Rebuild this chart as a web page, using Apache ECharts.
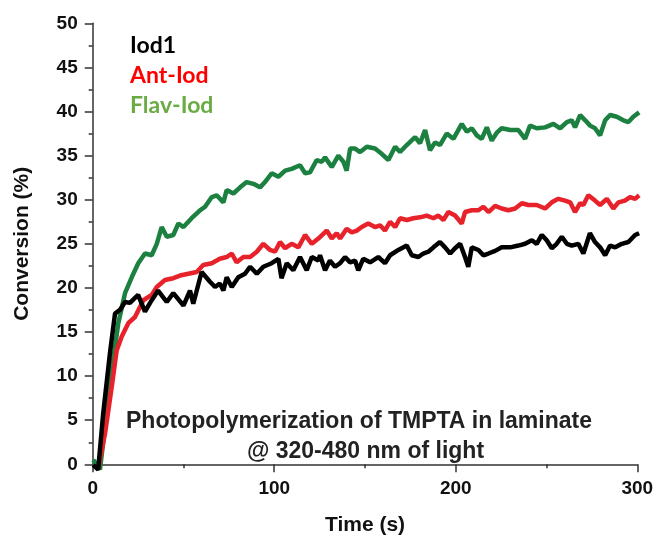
<!DOCTYPE html>
<html>
<head>
<meta charset="utf-8">
<script src="https://cdn.jsdelivr.net/npm/echarts@6/dist/echarts.min.js"></script>
<style>html,body{margin:0;padding:0;background:#fff}#c{width:655px;height:536px}</style>
</head>
<body>
<div id="c"></div>
<script>
// ---- data (time in s, conversion in %) ----
const seriesNames = ['Iod1', 'Ant-Iod', 'Flav-Iod'];
const xTicks = [0, 100, 200, 300];
const yTicks = [0, 5, 10, 15, 20, 25, 30, 35, 40, 45, 50];

const iodT = [0.3,3,5.8,9.5,12.3,15,17.8,20.5,25,28.8,31.6,36,40.8,44.4,50,53.6,55.4,60,64.6,67.4,70,72,73.8,76.6,80.2,83.9,86.7,90.4,94,98.6,102.3,104,106.9,110.5,114.2,117.9,120.7,124.3,125.2,128,130.7,133.5,136.3,139,141.8,144.5,146.3,149,152.8,157.3,161,163.8,168.4,173,175.8,179.4,182.1,184.9,187.7,191.3,194.1,196.9,199.6,202.4,205.1,206.9,208.8,212.5,215.2,218,221.7,225.3,230,234.5,238.2,241.9,244.6,247.4,250.1,252.9,255.6,258.4,261.2,263.9,267.5,270.3,273.9,276.7,279.5,282.3,285,287.8,291.5,295.1,298.8,301];
const iodV = [-0.1,-0.6,5.8,12.6,17.1,17.5,18.4,18.3,19.2,17.3,18.3,19.7,18.4,19.4,18,19.7,18.2,21.8,20.7,20.1,20.5,19.7,21.2,20.1,21.2,21.6,22.4,21.6,22.4,22.8,23.3,21.1,22.8,22,23.5,22,23.5,23.1,23.7,22,23.1,22.4,22.8,23.5,22.9,23.1,22,23.3,22.9,23.5,22.8,23.7,24.3,24.8,23.7,23.5,23.9,24.1,24.6,25.2,24.6,23.9,24.5,25,23.5,22.4,24.6,24.3,23.7,23.9,24.2,24.6,24.6,24.8,25,25.4,25,26,25.4,24.5,25,25.8,25,24.8,25,23.9,26.2,25.2,24.6,23.7,24.8,24.6,25,25.2,26,26.2];

const antT = [3,6.8,10.5,13.2,16,19.6,23.3,27.9,32.5,35.3,39.8,44.4,48.1,52.7,57.3,60.9,65.6,70,73.8,76.6,79.3,83,86.7,90.4,94,97.7,100.4,103.2,106,109.6,113.3,117,120.7,124.3,128.9,131.7,134.4,136.3,139.9,142.7,145.5,148.2,151.8,155.5,158.3,161,163.8,166.6,169.3,173,176.6,180.3,184,187.7,190.4,193.2,195.9,199.6,203.3,205.1,208.8,212.5,215.2,218,221.7,225.3,229,232.7,236.4,240,244.6,249.2,252.9,256.5,260.2,263,265.7,268.5,270.3,273,276.7,279.5,283.2,286.8,289.6,293.2,296,298.8,301];
const antV = [-0.5,3.5,8.8,12.9,14.5,16,16.7,18.6,19.2,20.1,20.9,21.1,21.4,21.6,21.8,22.6,22.8,23.3,23.5,23.9,22.9,23.5,23.5,24.1,25,24.3,24.1,25.2,24.5,25,24.6,26,25,25.6,26.5,25.6,26.2,25.6,26.7,26.3,26.5,26.9,27.3,26.9,27.1,26.5,27.5,26.9,27.9,27.7,27.9,28,28.2,27.9,28.2,27.7,28.6,28.2,27.3,28.6,28.8,28.8,29.2,28.6,29.3,29,28.8,29,29.6,29.4,29.4,29,29.7,30.1,29.9,29.7,28.6,29.6,29.4,30.5,29.9,29.4,30.1,29,29.7,29.9,30.3,30.1,30.5];

const flavT = [0.3,4,7.7,11.3,14.1,17.8,21.5,25.1,28.8,32.5,35.3,38,40.8,44.4,47.2,50,54.5,59.1,61.9,65.6,68.3,72,73.8,77.5,81.2,84.8,88.5,92.2,94.9,98.6,102.3,106,109.6,114.2,117,119.7,123.4,126.2,128,131.7,135.3,138.1,139.9,141.8,144.5,147.3,151,155.5,159.2,162.9,166.6,169.3,173,177.6,180.3,183.1,185.8,188.6,191.3,195,198.7,203.3,206.1,208.8,211.6,214.3,217.1,219.8,222.6,225.3,230,234.5,238.2,240.9,244.6,249.2,253.8,257.5,261.2,263.9,265.7,268.5,271.3,274,276.7,279.5,282.3,285,288.7,292.3,295.1,297.8,301];
const flavV = [0.5,-0.6,5.8,11.8,16,19.4,21.2,22.8,23.9,23.7,25,26.9,25.8,26,27.3,26.9,27.9,28.8,29.2,30.3,30.5,29.7,31.1,30.7,31.4,32,31.8,31.4,32,33,32.6,33.3,33.5,33.9,33,33.1,34.5,34.3,34.8,33.7,35,34.3,33.3,35.8,35.8,35.4,36,35.8,35.2,34.5,36,35.4,36.2,37.1,36.4,37.9,35.6,36.5,36.2,37.5,36.9,38.6,37.7,38.1,37.3,36.9,38.2,36.7,37.6,38.1,37.9,37.9,36.9,38.4,38.1,38.2,38.6,38.1,38.8,39,38.2,39.6,39,38.4,38.1,37.3,39,39.6,39.4,39,38.8,39.4,39.9];

const zip = (t, v) => t.map((x, i) => [x, v[i]]);

const chart = echarts.init(document.getElementById('c'), null, {renderer: 'canvas'});
const axisCol = '#333';
const labelFont = {fontFamily: 'Arial, "Liberation Sans", sans-serif', fontWeight: 'bold', fontSize: 19, color: '#111'};

chart.setOption({
  animation: false,
  backgroundColor: '#fff',
  grid: {left: 92.7, right: 17.7, top: 23.3, bottom: 71.7, containLabel: false, outerBoundsMode: 'none'},
  xAxis: {
    type: 'value', min: xTicks[0], max: xTicks[xTicks.length - 1], interval: 100,
    name: 'Time (s)', nameLocation: 'middle', nameGap: 50,
    nameTextStyle: {fontFamily: 'Arial, "Liberation Sans", sans-serif', fontWeight: 'bold', fontSize: 21, color: '#111'},
    axisLine: {show: true, onZero: false, lineStyle: {color: axisCol, width: 1.5}},
    axisTick: {show: true, inside: false, length: 8, lineStyle: {color: axisCol, width: 1.5}},
    minorTick: {show: true, splitNumber: 2, length: 4, lineStyle: {color: axisCol, width: 1.5}},
    axisLabel: Object.assign({margin: 15}, labelFont),
    splitLine: {show: false}
  },
  yAxis: {
    type: 'value', min: yTicks[0], max: yTicks[yTicks.length - 1], interval: 5,
    name: 'Conversion (%)', nameLocation: 'middle', nameGap: 60, nameRotate: 90,
    nameTextStyle: {fontFamily: 'Arial, "Liberation Sans", sans-serif', fontWeight: 'bold', fontSize: 21, color: '#111'},
    axisLine: {show: true, lineStyle: {color: axisCol, width: 1.5}},
    axisTick: {show: true, inside: false, length: 8, lineStyle: {color: axisCol, width: 1.5}},
    minorTick: {show: true, splitNumber: 2, length: 4, lineStyle: {color: axisCol, width: 1.5}},
    axisLabel: Object.assign({margin: 15}, labelFont),
    splitLine: {show: false}
  },
  series: [
    {name: seriesNames[2], type: 'line', data: zip(flavT, flavV), showSymbol: false, clip: false,
     lineStyle: {color: '#1b8040', width: 4.5}, z: 2},
    {name: seriesNames[1], type: 'line', data: zip(antT, antV), showSymbol: false, clip: false,
     lineStyle: {color: '#e8222a', width: 4.5}, z: 3},
    {name: seriesNames[0], type: 'line', data: zip(iodT, iodV), showSymbol: false, clip: false,
     lineStyle: {color: '#000', width: 4.5}, z: 4}
  ],
  graphic: [
    {type: 'text', left: 130, top: 34, style: {text: seriesNames[0], fill: '#000', font: 'bold 23px Lato, "Open Sans", sans-serif'}},
    {type: 'text', left: 130, top: 64, style: {text: seriesNames[1], fill: '#ff0000', font: 'bold 23px Lato, "Open Sans", sans-serif'}},
    {type: 'text', left: 130, top: 94, style: {text: seriesNames[2], fill: '#6aab45', font: 'bold 23px Lato, "Open Sans", sans-serif'}},
    {type: 'text', x: 359, y: 422, style: {text: 'Photopolymerization of TMPTA in laminate', fill: '#222', align: 'center', verticalAlign: 'middle', font: 'bold 23px Arial, "Liberation Sans", sans-serif'}},
    {type: 'text', x: 365.5, y: 452, style: {text: '@ 320-480 nm of light', fill: '#222', align: 'center', verticalAlign: 'middle', font: 'bold 23px Arial, "Liberation Sans", sans-serif'}}
  ]
});
</script>
</body>
</html>
